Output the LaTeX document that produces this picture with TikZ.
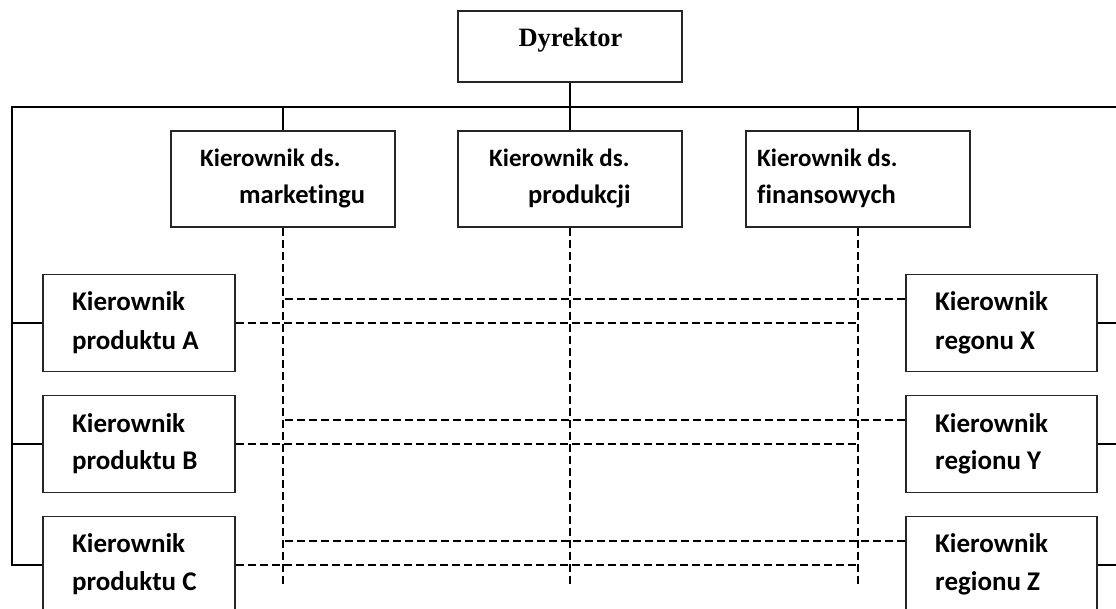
\documentclass[tikz,border=0pt]{standalone}
\usepackage{fontspec}
\usetikzlibrary{calc}
\newfontfamily\boxfont[Ligatures=NoCommon]{Carlito}
\newfontfamily\headfont{Liberation Serif}
\begin{document}
\begin{tikzpicture}[x=1pt,y=-1pt,
  unit/.style={draw=black!85,line width=1.1pt,rectangle,inner sep=0pt,
    minimum width=224pt,minimum height=96pt},
  sub/.style={unit,minimum width=192pt,minimum height=97pt},
  lbl/.style={anchor=base west,inner sep=0pt,font=\boxfont\bfseries\fontsize{26.5}{26.5}\selectfont},
  lblhead/.style={lbl,font=\boxfont\bfseries\fontsize{25}{25}\selectfont},
  sublbl/.style={lbl,font=\boxfont\bfseries\fontsize{27}{27}\selectfont},
  link/.style={line width=2pt},
  staff/.style={line width=2pt,dash pattern=on 8pt off 4pt}]
\useasboundingbox (0,0) rectangle (1116,609);
\clip (0,0) rectangle (1116,609);

% boxes
\node[unit,minimum height=71pt] (dyr) at (570,46.5) {};
\node[unit] (mkt) at (283,179) {};
\node[unit] (prd) at (570,179) {};
\node[unit] (fin) at (858,179) {};
\node[sub] (pA) at (139,323) {};
\node[sub] (pB) at (139,444) {};
\node[sub] (pC) at (139,565) {};
\node[sub,minimum width=191pt] (rX) at (1001.5,323) {};
\node[sub,minimum width=191pt] (rY) at (1001.5,444) {};
\node[sub,minimum width=191pt] (rZ) at (1001.5,565) {};

% texts
\node[anchor=base,inner sep=0pt,font=\headfont\bfseries\fontsize{26.5}{26.5}\selectfont] (tdyr) at (570.5,47) {Dyrektor};
\node[lblhead] (tm1) at (200,167) {Kierownik ds.};
\node[lbl] (tm2) at (239,204) {marketingu};
\node[lblhead] (tp1) at (489,167) {Kierownik ds.};
\node[lbl] (tp2) at (528,204) {produkcji};
\node[lblhead] (tf1) at (757,167) {Kierownik ds.};
\node[lbl] (tf2) at (757,204) {finansowych};
\node[sublbl] (ta1) at (72,311) {Kierownik};
\node[sublbl] (ta2) at (72,349) {produktu A};
\node[sublbl] (tb1) at (72,432) {Kierownik};
\node[sublbl] (tb2) at (72,469) {produktu B};
\node[sublbl] (tc1) at (72,552) {Kierownik};
\node[sublbl] (tc2) at (72,590) {produktu C};
\node[sublbl] (tx1) at (935,311) {Kierownik};
\node[sublbl] (tx2) at (935,349) {regonu X};
\node[sublbl] (ty1) at (935,432) {Kierownik};
\node[sublbl] (ty2) at (935,469) {regionu Y};
\node[sublbl] (tz1) at (935,552) {Kierownik};
\node[sublbl] (tz2) at (935,590) {regionu Z};

% line-management bus
\coordinate (busL) at (12,107);
\coordinate (busR) at (1116,107);
\coordinate (low) at (0,585);
\draw[link] (dyr.south) -- (dyr.south |- busL);
\draw[link] (busR) -- (busL) |- (pC.west);
\draw[link] (busL |- pA.west) -- (pA.west);
\draw[link] (busL |- pB.west) -- (pB.west);
\draw[link] (mkt.north) -- (mkt.north |- busL);
\draw[link] (prd.north) -- (prd.north |- busL);
\draw[link] (fin.north) -- (fin.north |- busL);
\draw[link] (rX.east) -- (rX.east -| busR);
\draw[link] (rY.east) -- (rY.east -| busR);
\draw[link] (rZ.east) -- (rZ.east -| busR);

% functional (dashed) links
\draw[staff] (mkt.south) -- (mkt.south |- low);
\draw[staff] (prd.south) -- (prd.south |- low);
\draw[staff] (fin.south) -- (fin.south |- low);
\foreach \p in {pA,pB,pC}
  \draw[staff] (\p.east) -- (\p.east -| fin.south);
\foreach \q in {rX,rY,rZ}{
  \coordinate (\q in) at ($(\q.west)+(0,-24)$);
  \draw[staff] (\q in) -- (\q in -| mkt.south);
}
\end{tikzpicture}
\end{document}
